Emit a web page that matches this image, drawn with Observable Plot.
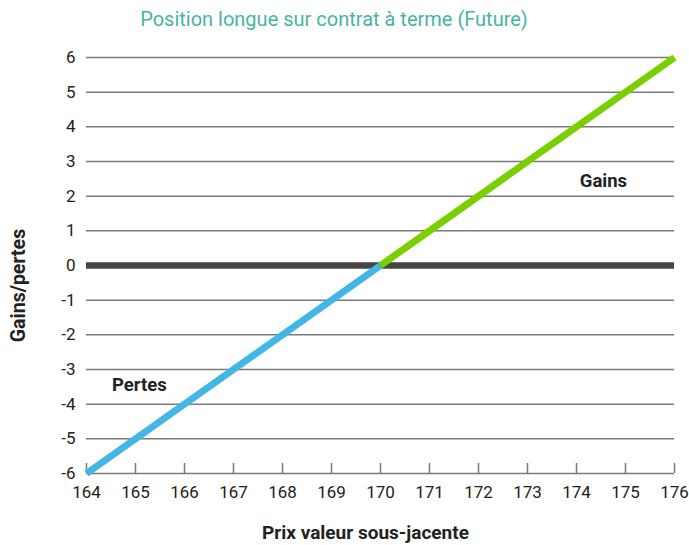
<!DOCTYPE html>
<html><head><meta charset="utf-8">
<script src="https://cdn.jsdelivr.net/npm/d3@7"></script>
<script src="https://cdn.jsdelivr.net/npm/@observablehq/plot@0.6"></script>
<style>
body{margin:0;background:#fff;font-family:Roboto,"Open Sans",sans-serif;}
#title{height:40px;width:689px;position:relative;}
#title span{position:absolute;left:0;width:668px;text-align:center;top:7px;font-size:20px;color:#48b3a1;line-height:24px;}
</style></head>
<body>
<div id="title"><span>Position longue sur contrat à terme (Future)</span></div>
<div id="chart"></div>
<script>
const xTicks = [164,165,166,167,168,169,170,171,172,173,174,175,176];
const yTicks = [-6,-5,-4,-3,-2,-1,0,1,2,3,4,5,6];
const lossPrices = [164,170];
const lossValues = [-6,0];
const gainPrices = [170,176];
const gainValues = [0,6];
const annoLabels = ["Gains","Pertes"];
const annoX = [174.55,165.08];
const annoY = [2.43,-3.46];
const xTitle = "Prix valeur sous-jacente";
const yTitle = "Gains/pertes";

const loss = lossPrices.map((p,i)=>({x:p,y:lossValues[i]}));
const gain = gainPrices.map((p,i)=>({x:p,y:gainValues[i]}));
const anno = annoLabels.map((t,i)=>({t,x:annoX[i],y:annoY[i]}));

const chart = Plot.plot({
  width: 689, height: 505,
  marginTop: 17, marginBottom: 72, marginLeft: 86, marginRight: 15,
  style: {fontFamily: "Roboto, sans-serif", fontSize: "17px", color: "#222", background: "#fff"},
  x: {domain: [164,176]},
  y: {domain: [-6,6]},
  marks: [
    Plot.ruleY(yTicks.filter(d=>d!==0), {stroke: "#7a7a7a", strokeWidth: 1.5}),
    Plot.ruleX(xTicks, {y1: -6, y2: -6, insetTop: -10, stroke: "#7a7a7a", strokeWidth: 1.5}),
    Plot.ruleY([0], {stroke: "#454545", strokeWidth: 6.5}),
    Plot.line(loss, {x: "x", y: "y", stroke: "#42b6e6", strokeWidth: 7, strokeLinecap: "butt"}),
    Plot.line(gain, {x: "x", y: "y", stroke: "#7acf00", strokeWidth: 7, strokeLinecap: "butt"}),
    Plot.axisX({ticks: xTicks, tickSize: 0, tickPadding: 12, tickFormat: d=>String(d), label: null, fontSize: "17px"}),
    Plot.axisY({ticks: yTicks, tickSize: 0, tickPadding: 11, tickFormat: d=>String(d), label: null, fontSize: "17px"}),
    Plot.text(anno, {x: "x", y: "y", text: "t", fontWeight: "bold", fontSize: 18.5, fill: "#222"}),
    Plot.text([xTitle], {frameAnchor: "bottom", textAnchor: "middle", lineAnchor: "middle", dx: -15, dy: 59, fontWeight: "bold", fontSize: 19, fill: "#222"}),
    Plot.text([yTitle], {frameAnchor: "left", textAnchor: "middle", lineAnchor: "middle", dx: -68, dy: 20, rotate: -90, fontWeight: "bold", fontSize: 19.5, fill: "#222"})
  ]
});
document.getElementById("chart").appendChild(chart);
</script>
</body></html>
